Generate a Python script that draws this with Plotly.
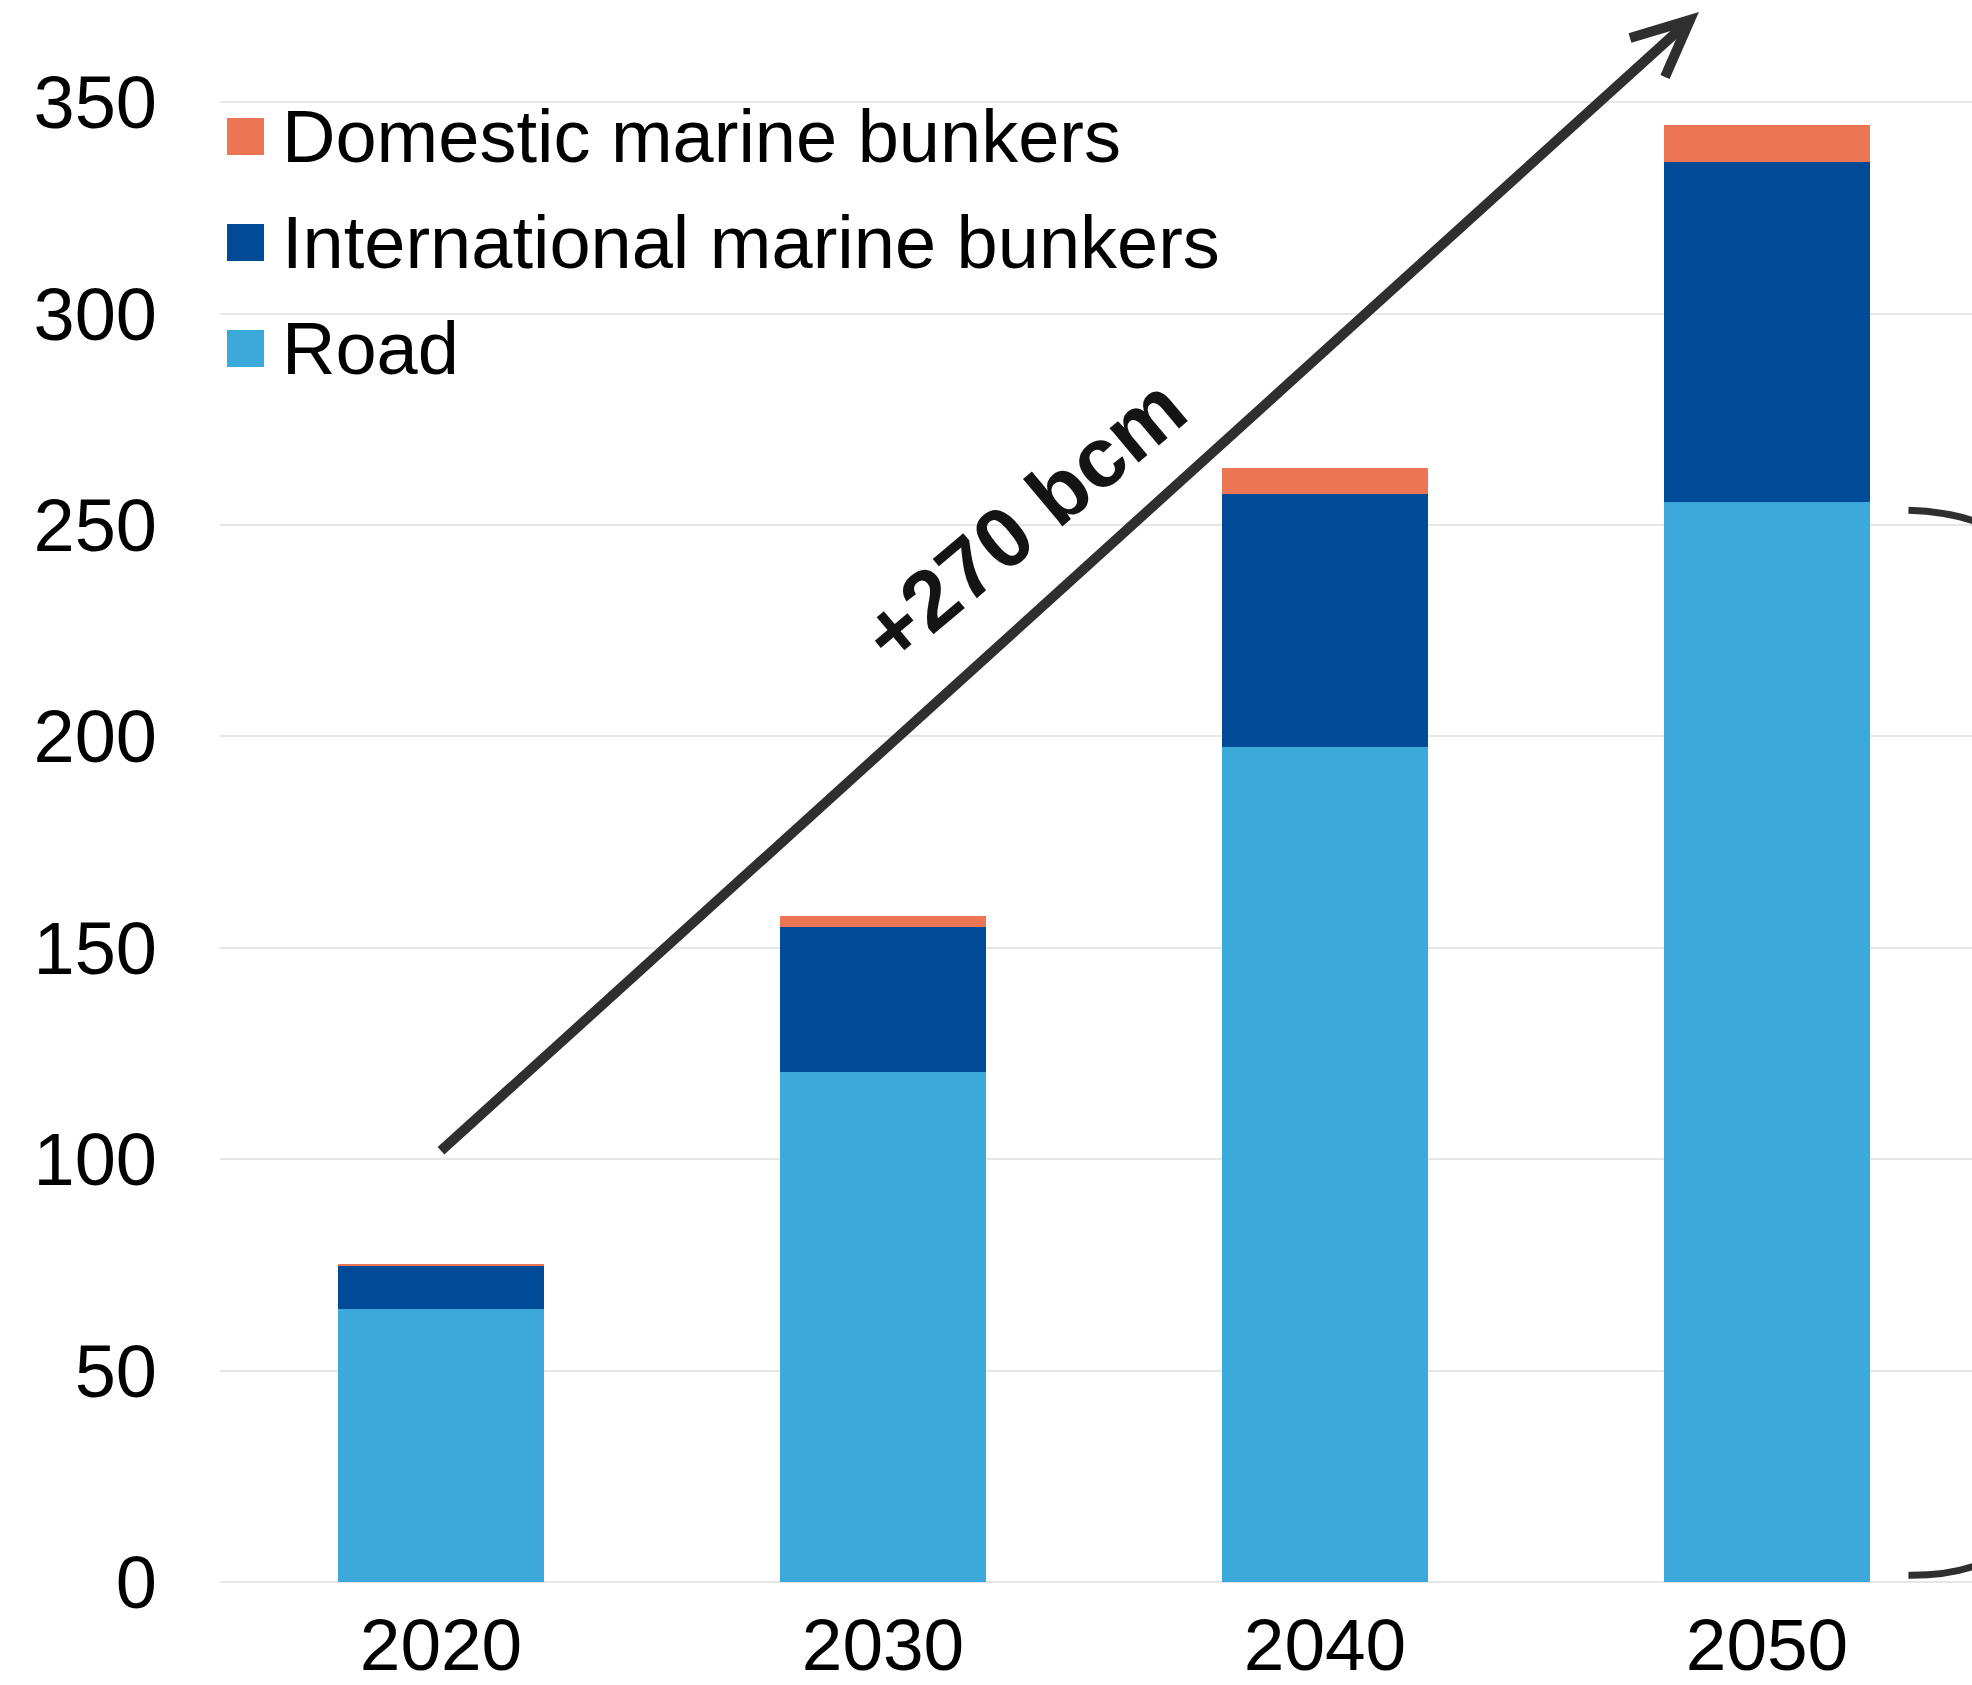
import plotly.graph_objects as go

# Gas demand in transport, bcm
years = ["2020", "2030", "2040", "2050"]
road = [64.6, 120.6, 197.4, 255.4]
international_bunkers = [10.1, 34.3, 60.0, 80.6]
domestic_bunkers = [0.5, 2.6, 6.0, 8.7]

series_names = ["Road", "International marine bunkers", "Domestic marine bunkers"]
series_values = [road, international_bunkers, domestic_bunkers]
series_colors = ["#3BAADB", "#004B98", "#EC7553"]

y_ticks = [0, 50, 100, 150, 200, 250, 300, 350]
growth_label = "+270 bcm"

FONT = "Arial, Liberation Sans, sans-serif"
W, H = 1972, 1685
M_L, M_R, M_T, M_B = 220, 0, 0, 103
plot_w = W - M_L - M_R
plot_h = H - M_T - M_B
px_per_cat = 442.0
x_range = [-0.5, -0.5 + plot_w / px_per_cat]
y_range = [0, 374.2]
px_per_unit = plot_h / (y_range[1] - y_range[0])

fig = go.Figure()
for name, vals, col in zip(series_names, series_values, series_colors):
    fig.add_trace(go.Bar(
        x=list(range(len(years))), y=vals, name=name,
        marker=dict(color=col, line=dict(width=0)),
        width=0.464, showlegend=False,
    ))

# Legend drawn as large swatches with labels (top entry first)
legend_x_px = 227
legend_rows_px = [136.5, 242.5, 348.5]
sw = 37
shapes = []
annotations = []
for row_y, name, col in zip(legend_rows_px, series_names[::-1], series_colors[::-1]):
    x0 = (legend_x_px - M_L) / plot_w
    x1 = (legend_x_px + sw - M_L) / plot_w
    y0 = 1 - (row_y - sw / 2 - M_T) / plot_h
    y1 = 1 - (row_y + sw / 2 - M_T) / plot_h
    shapes.append(dict(type="rect", xref="paper", yref="paper",
                       x0=x0, x1=x1, y0=y0, y1=y1,
                       fillcolor=col, line=dict(width=0), layer="above"))
    annotations.append(dict(text=name, xref="paper", yref="paper",
                            x=(280 - M_L) / plot_w, y=1 - (row_y - M_T) / plot_h,
                            xanchor="left", yanchor="middle", showarrow=False,
                            font=dict(family=FONT, size=74, color="#000000")))

# Growth arrow from the 2020 bar to above the 2050 bar
arrow_color = "#2F2F2F"
x_start, y_start = 0.0, 102.0
x_tip = (1690 - (M_L + 0.5 * px_per_cat)) / px_per_cat
y_tip = (H - M_B - 20) / px_per_unit
shapes.append(dict(type="line", xref="x", yref="y",
                   x0=x_start, y0=y_start, x1=x_tip, y1=y_tip,
                   line=dict(color=arrow_color, width=10)))
head = [(-60, 18), (-25, 57)]
pts = [(x_tip + dx / px_per_cat, y_tip - dy / px_per_unit) for dx, dy in head]
shapes.append(dict(type="path", xref="x", yref="y",
                   path=f"M{pts[0][0]},{pts[0][1]} L{x_tip},{y_tip} L{pts[1][0]},{pts[1][1]}",
                   line=dict(color=arrow_color, width=10)))

# Bracket beside the 2050 road segment
bx0 = 3.32
shapes.append(dict(type="path", xref="x", yref="y",
                   path=(f"M{bx0},{road[3] - 1.9} Q3.52,{road[3] - 2.6} 3.60,{road[3] - 14} "
                         f"L3.60,14 Q3.52,1.4 {bx0},1.6"),
                   line=dict(color="#2F2F2F", width=7)))

annotations.append(dict(text=f"<b>{growth_label}</b>", xref="x", yref="y",
                        x=1.318, y=251, textangle=-40, showarrow=False,
                        font=dict(family=FONT, size=85, color="#141414")))

fig.update_layout(
    width=W, height=H,
    margin=dict(l=M_L, r=M_R, t=M_T, b=M_B, pad=0, autoexpand=False),
    barmode="stack",
    plot_bgcolor="white", paper_bgcolor="white",
    shapes=shapes, annotations=annotations,
    font=dict(family=FONT, size=74, color="#000000"),
    xaxis=dict(range=x_range, tickmode="array", tickvals=list(range(len(years))),
               ticktext=years, showgrid=False, zeroline=False, showline=False,
               ticks="", ticklabelstandoff=14, automargin=False,
               tickfont=dict(family=FONT, size=73, color="#000000")),
    yaxis=dict(range=y_range, tickvals=y_ticks, showgrid=True, gridcolor="#E6E6E6",
               gridwidth=2, zeroline=True, zerolinecolor="#E6E6E6", zerolinewidth=2,
               showline=False, ticks="", ticklabelstandoff=62, automargin=False,
               tickfont=dict(family=FONT, size=74, color="#000000")),
)

fig.write_html("out.html")
